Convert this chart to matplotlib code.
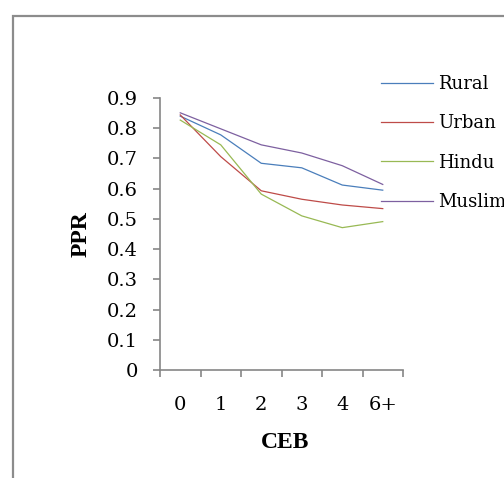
import matplotlib.pyplot as plt
from matplotlib.patches import Rectangle
from matplotlib.ticker import FixedLocator

ceb = ["0", "1", "2", "3", "4", "6+"]
rural = [0.840, 0.778, 0.684, 0.669, 0.612, 0.595]
urban = [0.844, 0.706, 0.593, 0.565, 0.546, 0.534]
hindu = [0.827, 0.745, 0.582, 0.510, 0.471, 0.491]
muslim = [0.851, 0.798, 0.745, 0.718, 0.676, 0.614]

series = [("Rural", rural, "#4A7EBB"),
          ("Urban", urban, "#BE4B48"),
          ("Hindu", hindu, "#98B954"),
          ("Muslim", muslim, "#7D60A0")]

plt.rcParams['font.family'] = ['DejaVu Serif']

fig = plt.figure(figsize=(5.04, 4.78), dpi=100)
ax = fig.add_axes([160/504, 1 - 370/478, 243/504, 272/478])

x = list(range(len(ceb)))
for name, vals, col in series:
    ax.plot(x, vals, color=col, lw=0.9, label=name)

ax.set_xlim(-0.5, len(ceb) - 0.5)
ax.set_ylim(0, 0.9)
ax.set_yticks([i / 10 for i in range(10)])
ax.set_yticklabels(["0"] + ["%.1f" % (i / 10) for i in range(1, 10)])
ax.set_xticks(x)
ax.set_xticklabels(ceb)
ax.xaxis.set_minor_locator(FixedLocator([i - 0.5 for i in range(len(ceb) + 1)]))

grey = "#868686"
for s in ["top", "right"]:
    ax.spines[s].set_visible(False)
for s in ["left", "bottom"]:
    ax.spines[s].set_color(grey)
    ax.spines[s].set_linewidth(1.2)
ax.tick_params(axis="y", length=5, color=grey, width=1.2, labelsize=14, pad=11)
ax.tick_params(axis="x", which="major", length=0, labelsize=14, pad=19)
ax.tick_params(axis="x", which="minor", length=5, color=grey, width=1.2)

ax.set_xlabel("CEB", fontsize=17, fontweight="bold", family="Liberation Serif")
ax.set_ylabel("PPR", fontsize=17, fontweight="bold", family="Liberation Serif")
ax.xaxis.set_label_coords(125/243, -62/272)
ax.yaxis.set_label_coords(-68/243, 0.5)

ax.legend(loc="upper left", bbox_to_anchor=(381/504, 1 - 75/478),
          bbox_transform=fig.transFigure, frameon=False, fontsize=13,
          handlelength=2.86, handletextpad=0.3, labelspacing=1.18,
          borderaxespad=0, borderpad=0)

# chart area border, running off the right and bottom edges
fig.patches.append(Rectangle((13/504, -0.1), 1.2, 1.1 - 16/478,
                             transform=fig.transFigure, fill=False,
                             edgecolor="#8c8c8c", lw=1.6))

fig.savefig("out.png", dpi=100)
